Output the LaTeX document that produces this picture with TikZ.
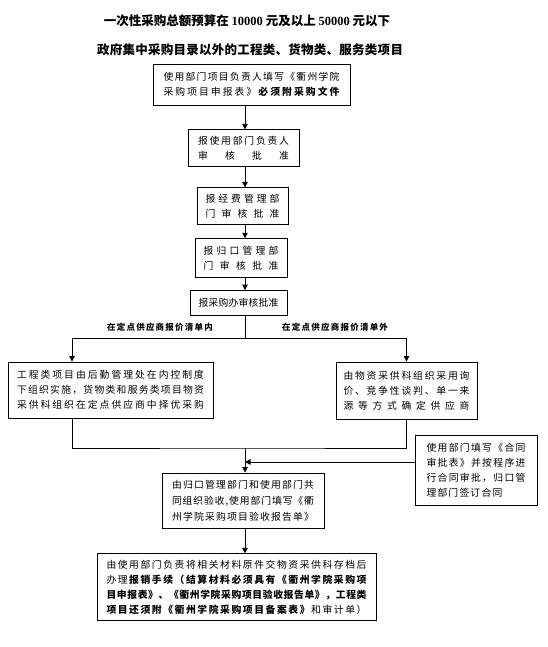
\documentclass[tikz,border=0pt]{standalone}
\usepackage{fontspec}
\setmainfont{Noto Sans CJK SC}
\newfontfamily\numfont{Liberation Serif}
\usetikzlibrary{positioning,arrows.meta}

% spread a line of CJK text over a fixed width
\newdimen\cjsp
\newcommand\bon{\bfseries}
\newcommand\boff{\mdseries}
\def\jlloop#1{%
  \ifx\relax#1\unskip
  \else
    \ifx\bon#1\bfseries\else\ifx\boff#1\mdseries\else#1\hskip\cjsp plus 1fil minus \cjsp\fi\fi
    \expandafter\jlloop
  \fi}
\newcommand\jl[2]{\hbox to #1{\jlloop#2\relax}}
\newcommand\jlr[2]{\hbox to #1{\jlloop#2\relax\hfill}}

\begin{document}
\begin{tikzpicture}[x=1pt, y=-1pt, >={Triangle[length=5.5pt,width=5.5pt]},
  box/.style={draw, line width=0.9pt, inner sep=0pt, align=center, font={\fontsize{9.8}{15}\selectfont\cjsp=1.2pt}},
  ttl/.style={inner sep=0pt, font={\fontsize{12.5}{14}\selectfont\bfseries\cjsp=0.8pt}},
  lbl/.style={inner sep=0pt, font={\fontsize{8.5}{10}\selectfont\bfseries\cjsp=1pt}},
  ln/.style={line width=0.8pt}, arr/.style={ln, ->}
]
  \useasboundingbox (0,0) rectangle (548,647);
  \node[ttl] (t1) at (247,21) {一次性采购总额预算在 {\numfont 10000} 元及以上 {\numfont 50000} 元以下};
  \node[ttl] (t2) at (250,50) {\jl{306pt}{政府集中采购目录以外的工程类、货物类、服务类项目}};

  \node[box, minimum width=197pt, minimum height=41pt] (b1) at (251.5,84.5)
    {\jl{176pt}{使用部门项目负责人填写《衢州学院}\\\jl{176pt}{采购项目申报表》\bon 必须附采购文件}};
  \node[box, minimum width=111pt, minimum height=37pt, below=24pt of b1, xshift=-8pt] (b2)
    {\jl{91pt}{报使用部门负责人}\\\jl{91pt}{审核批准}};
  \node[box, minimum width=91pt, minimum height=37pt, below=20pt of b2, xshift=-1pt] (b3)
    {\jl{74pt}{报经费管理部}\\\jl{74pt}{门审核批准}};
  \node[box, minimum width=92pt, minimum height=39pt, below=13pt of b3, xshift=-1.5pt] (b4)
    {\jl{75pt}{报归口管理部}\\\jl{75pt}{门审核批准}};
  \node[box, minimum width=97pt, minimum height=25pt, below=12pt of b4, xshift=-2.5pt] (b5)
    {\jl{80pt}{报采购办审核批准}};

  \node[lbl] (l1) at (160,327) {\jl{106pt}{在定点供应商报价清单内}};
  \node[lbl] (l2) at (335,327) {\jl{106pt}{在定点供应商报价清单外}};

  \node[box, minimum width=205pt, minimum height=56pt] (b6) at (110.5,390)
    {\jl{187pt}{工程类项目由后勤管理处在内控制度}\\\jl{187pt}{下组织实施，货物类和服务类项目物资}\\\jl{187pt}{采供科组织在定点供应商中择优采购}};
  \node[box, minimum width=141pt, minimum height=57pt] (b7) at (406.5,390.5)
    {\jl{126pt}{由物资采供科组织采用询}\\\jl{126pt}{价、竞争性谈判、单一来}\\\jl{126pt}{源等方式确定供应商}};
  \node[box, minimum width=162pt, minimum height=55pt, font={\fontsize{9.8}{16}\selectfont\cjsp=1.2pt}] (b8) at (243,500.5)
    {\jl{142pt}{由归口管理部门和使用部门共}\\\jl{142pt}{同组织验收,使用部门填写《衢}\\\jl{142pt}{州学院采购项目验收报告单》}};
  \node[box, minimum width=122pt, minimum height=70pt] (b9) at (476,470)
    {\jl{99pt}{使用部门填写《合同}\\\jl{99pt}{审批表》并按程序进}\\\jl{99pt}{行合同审批，归口管}\\\jlr{99pt}{理部门签订合同}};
  \node[box, minimum width=279pt, minimum height=67pt, below=25pt of b8, xshift=-6.5pt] (b10)
    {\jl{260pt}{由使用部门负责将相关材料原件交物资采供科存档后}\\
     \jl{260pt}{办理\bon 报销手续（结算材料必须具有《衢州学院采购项}\\
     \jl{260pt}{\bon 目申报表》、《衢州学院采购项目验收报告单》，工程类}\\
     \jl{260pt}{\bon 项目还须附《衢州学院采购项目备案表》\boff 和审计单）}};

  \coordinate (ax) at (245,0);
  \coordinate (lx) at (72,0);
  \coordinate (sp) at (245,338);
  \coordinate (mg) at (245,448);
  \coordinate (mj) at (245,462);

  \foreach \p/\q in {b1/b2,b2/b3,b3/b4,b4/b5}
    \draw[arr] (\p.south -| ax) -- (\q.north -| ax);
  \draw[ln] (b5.south -| ax) -- (sp);
  \draw[arr] (sp) -| (b6.north -| lx);
  \draw[arr] (sp) -| (b7.north);
  \draw[ln] (b6.south -| lx) |- (mg) -| (b7.south);
  \draw[arr] (mg) -- (b8.north -| ax);
  \draw[arr] (b9.west |- mj) -- (mj);
  \draw[arr] (b8.south -| ax) -- (b10.north -| ax);
\end{tikzpicture}
\end{document}
